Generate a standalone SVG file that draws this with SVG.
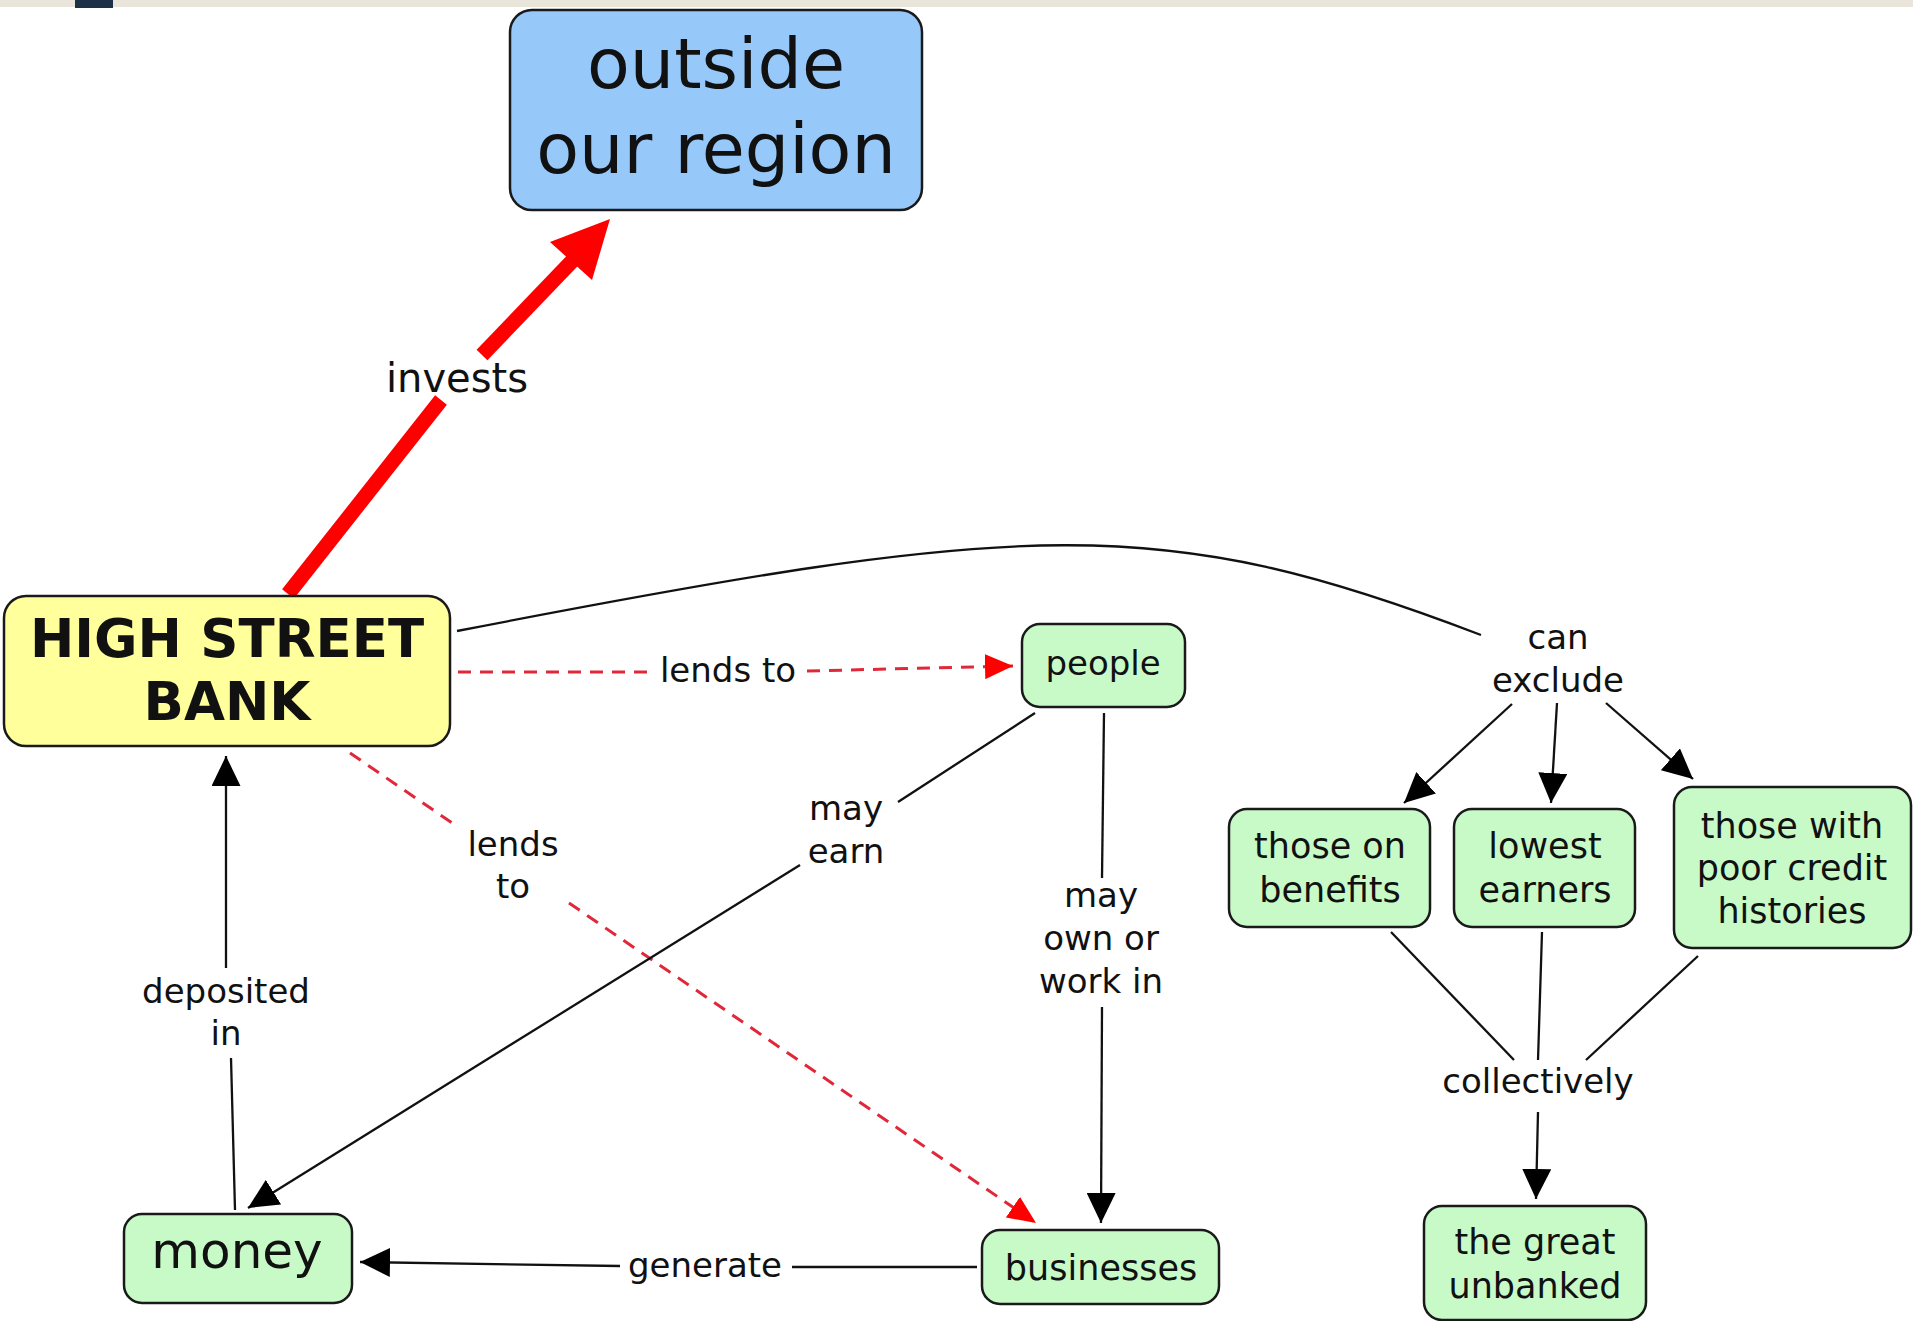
<svg xmlns="http://www.w3.org/2000/svg" width="1913" height="1321" viewBox="0 0 1913 1321">
<defs>
<style>
.node rect{stroke:#1a1a1a;stroke-width:2.5}
.green{fill:#c8fac8}
.t{font-family:"DejaVu Sans","Verdana","Liberation Sans",sans-serif;fill:#111;text-anchor:middle}
.lbl{font-family:"DejaVu Sans","Verdana","Liberation Sans",sans-serif;fill:#111;text-anchor:middle;font-size:34px}
.ln{stroke:#111;stroke-width:2.3;fill:none}
.red{stroke:#e0283a;stroke-width:3;fill:none;stroke-dasharray:13 9}
</style>
<marker id="ah" markerUnits="userSpaceOnUse" markerWidth="31" markerHeight="29" refX="30" refY="14.5" orient="auto" viewBox="0 0 31 29">
<path d="M0,0 L30,14.5 L0,29 z" fill="#000"/>
</marker>
<marker id="rh" markerUnits="userSpaceOnUse" markerWidth="29" markerHeight="25" refX="28" refY="12.5" orient="auto" viewBox="0 0 29 25">
<path d="M0,0 L28,12.5 L0,25 z" fill="#ff0000"/>
</marker>
</defs>
<rect x="0" y="0" width="1913" height="1321" fill="#ffffff"/>
<rect x="0" y="0" width="1913" height="7" fill="#e9e5da"/>
<rect x="75" y="0" width="38" height="8" fill="#1c3048"/>

<g id="connectors">
<path class="ln" d="M457,631 C1030,520 1160,512 1481,635"/>
<path d="M288,594 L441,400" stroke="#ff0000" stroke-width="15" fill="none"/>
<path d="M482,355 L575,258" stroke="#ff0000" stroke-width="15" fill="none"/>
<polygon points="610,219 550,242 592,280" fill="#ff0000"/>
<path class="red" d="M458,672 L650,672"/>
<path class="red" d="M807,671 L1013,666" marker-end="url(#rh)"/>
<path class="red" d="M350,753 L458,827"/>
<path class="red" d="M569,903 L1036,1223" marker-end="url(#rh)"/>
<path class="ln" d="M1035,713 L898,802"/>
<path class="ln" d="M800,865 L248,1208" marker-end="url(#ah)"/>
<path class="ln" d="M1104,713 L1102,878"/>
<path class="ln" d="M1102,1007 L1101,1223" marker-end="url(#ah)"/>
<path class="ln" d="M977,1267 L792,1267"/>
<path class="ln" d="M620,1266 L360,1262" marker-end="url(#ah)"/>
<path class="ln" d="M235,1210 L231,1058"/>
<path class="ln" d="M226,968 L226,756" marker-end="url(#ah)"/>
<path class="ln" d="M1512,704 L1404,803" marker-end="url(#ah)"/>
<path class="ln" d="M1557,703 L1551,803" marker-end="url(#ah)"/>
<path class="ln" d="M1606,703 L1693,779" marker-end="url(#ah)"/>
<path class="ln" d="M1391,932 L1514,1060"/>
<path class="ln" d="M1542,932 L1538,1060"/>
<path class="ln" d="M1698,956 L1586,1060"/>
<path class="ln" d="M1538,1112 L1536,1199" marker-end="url(#ah)"/>
<text class="lbl" x="457" y="392" style="font-size:40px">invests</text>
<text class="lbl" x="728" y="682">lends to</text>
<text class="lbl" x="513" y="856">lends</text>
<text class="lbl" x="513" y="898">to</text>
<text class="lbl" x="846" y="820">may</text>
<text class="lbl" x="846" y="863">earn</text>
<text class="lbl" x="1101" y="907">may</text>
<text class="lbl" x="1101" y="950">own or</text>
<text class="lbl" x="1101" y="993">work in</text>
<text class="lbl" x="226" y="1003">deposited</text>
<text class="lbl" x="226" y="1045">in</text>
<text class="lbl" x="705" y="1277">generate</text>
<text class="lbl" x="1558" y="649">can</text>
<text class="lbl" x="1558" y="692">exclude</text>
<text class="lbl" x="1538" y="1093">collectively</text>
</g>

<g id="outside" class="node">
<rect x="510" y="10" width="412" height="200" rx="22" fill="#96c8fa"/>
<text class="t" x="716" y="88" font-size="70">outside</text>
<text class="t" x="716" y="173" font-size="70">our region</text>
</g>
<g id="bank" class="node">
<rect x="4" y="596" width="446" height="150" rx="22" fill="#ffff9c"/>
<text class="t" x="227" y="657" font-size="53" font-weight="bold">HIGH STREET</text>
<text class="t" x="227" y="720" font-size="53" font-weight="bold">BANK</text>
</g>
<g id="people" class="node">
<rect class="green" x="1022" y="624" width="163" height="83" rx="18"/>
<text class="t" x="1103" y="675" font-size="34">people</text>
</g>
<g id="money" class="node">
<rect class="green" x="124" y="1214" width="228" height="89" rx="18"/>
<text class="t" x="237" y="1268" font-size="50">money</text>
</g>
<g id="businesses" class="node">
<rect class="green" x="982" y="1230" width="237" height="74" rx="18"/>
<text class="t" x="1101" y="1280" font-size="35">businesses</text>
</g>
<g id="benefits" class="node">
<rect class="green" x="1229" y="809" width="201" height="118" rx="18"/>
<text class="t" x="1330" y="858" font-size="35">those on</text>
<text class="t" x="1330" y="902" font-size="35">benefits</text>
</g>
<g id="earners" class="node">
<rect class="green" x="1454" y="809" width="181" height="118" rx="18"/>
<text class="t" x="1545" y="858" font-size="35">lowest</text>
<text class="t" x="1545" y="902" font-size="35">earners</text>
</g>
<g id="credit" class="node">
<rect class="green" x="1674" y="787" width="237" height="161" rx="18"/>
<text class="t" x="1792" y="838" font-size="35">those with</text>
<text class="t" x="1792" y="880" font-size="35">poor credit</text>
<text class="t" x="1792" y="923" font-size="35">histories</text>
</g>
<g id="unbanked" class="node">
<rect class="green" x="1424" y="1206" width="222" height="114" rx="18"/>
<text class="t" x="1535" y="1254" font-size="35">the great</text>
<text class="t" x="1535" y="1298" font-size="35">unbanked</text>
</g>
</svg>
